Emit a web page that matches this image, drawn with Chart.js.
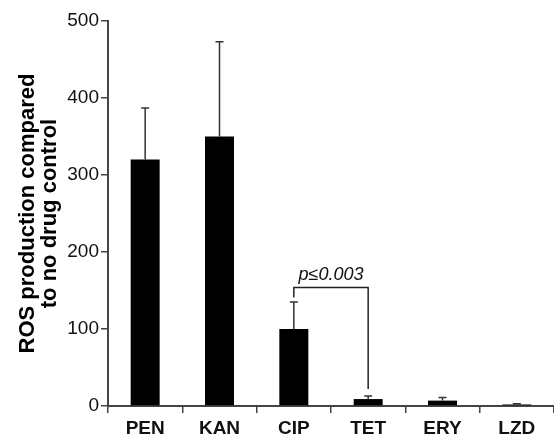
<!DOCTYPE html>
<html>
<head>
<meta charset="utf-8">
<script src="https://cdn.jsdelivr.net/npm/chart.js@4"></script>
<style>
body{margin:0;background:#fff;}
</style>
</head>
<body>
<canvas id="chart" width="554" height="436"></canvas>
<script>

// data
const drugs = ["PEN","KAN","CIP","TET","ERY","LZD"]
const rosMean = [320, 350, 100, 9, 7, 2]
const rosErr = [67, 123, 35, 4, 4, 1]
const yTicks = [0, 100, 200, 300, 400, 500]

// significance bracket between CIP and TET (values in y units)
const bracketPair = ["CIP","TET"]
const bracketLevels = [154, 141, 22]   // top, left leg end, right leg end
const bracketLabel = "p\u22640.003"


const errorBars = {
id:"errorBars",
afterDatasetsDraw(c){
const ctx = c.ctx
const y = c.scales.y
const meta = c.getDatasetMeta(0)
ctx.save()
ctx.strokeStyle = "#333"
ctx.lineWidth = 1.5
meta.data.forEach((bar,i)=>{
const top = y.getPixelForValue(rosMean[i] + rosErr[i])
ctx.beginPath()
ctx.moveTo(bar.x, bar.y)
ctx.lineTo(bar.x, top)
ctx.moveTo(bar.x - 4, top)
ctx.lineTo(bar.x + 4, top)
ctx.stroke()
})

// bracket
const x = c.scales.x
const x1 = x.getPixelForValue(drugs.indexOf(bracketPair[0]))
const x2 = x.getPixelForValue(drugs.indexOf(bracketPair[1]))
const yt = y.getPixelForValue(bracketLevels[0])
ctx.strokeStyle = "#222"
ctx.lineWidth = 1.5
ctx.beginPath()
ctx.moveTo(x1, y.getPixelForValue(bracketLevels[1]))
ctx.lineTo(x1, yt)
ctx.lineTo(x2, yt)
ctx.lineTo(x2, y.getPixelForValue(bracketLevels[2]))
ctx.stroke()

ctx.fillStyle = "#111"
ctx.font = "italic 18px 'Liberation Sans', Arial, sans-serif"
ctx.textAlign = "center"
ctx.textBaseline = "alphabetic"
ctx.fillText(bracketLabel, (x1 + x2) / 2, yt - 7)
ctx.restore()
}
}


new Chart(document.getElementById("chart"),{

type:"bar",

data:{
labels: drugs,
datasets:[{
data: rosMean,
backgroundColor:"#000",
borderWidth:0,
barPercentage:0.39,
categoryPercentage:1
}]
},

options:{
responsive:false,
animation:false,
layout:{padding:{top:21,right:0,left:0,bottom:0}},
plugins:{
legend:{display:false},
tooltip:{enabled:false}
},
scales:{
x:{
grid:{display:true, drawOnChartArea:false, drawTicks:true, tickLength:7, color:"#444", lineWidth:1.5},
border:{display:true, color:"#444", width:2},
ticks:{color:"#111", padding:4, font:{family:"'Liberation Sans', Arial, sans-serif", size:19, weight:"bold"}},
afterFit(s){ s.height = 30 }
},
y:{
min:0,
max:500,
afterBuildTicks(s){ s.ticks = yTicks.map(v=>({value:v})) },
grid:{display:true, drawOnChartArea:false, drawTicks:true, tickLength:7, color:"#444", lineWidth:1.5},
border:{display:true, color:"#444", width:2},
ticks:{color:"#111", padding:2, font:{family:"'Liberation Sans', Arial, sans-serif", size:19}},
title:{
display:true,
text:["ROS production compared","to no drug control"],
color:"#000",
padding:{top:17,bottom:0},
font:{family:"'Liberation Sans', Arial, sans-serif", size:22, weight:"bold", lineHeight:1.0}
},
afterFit(s){ s.width = 108 }
}
}
},

plugins:[errorBars]

})

</script>
</body>
</html>
